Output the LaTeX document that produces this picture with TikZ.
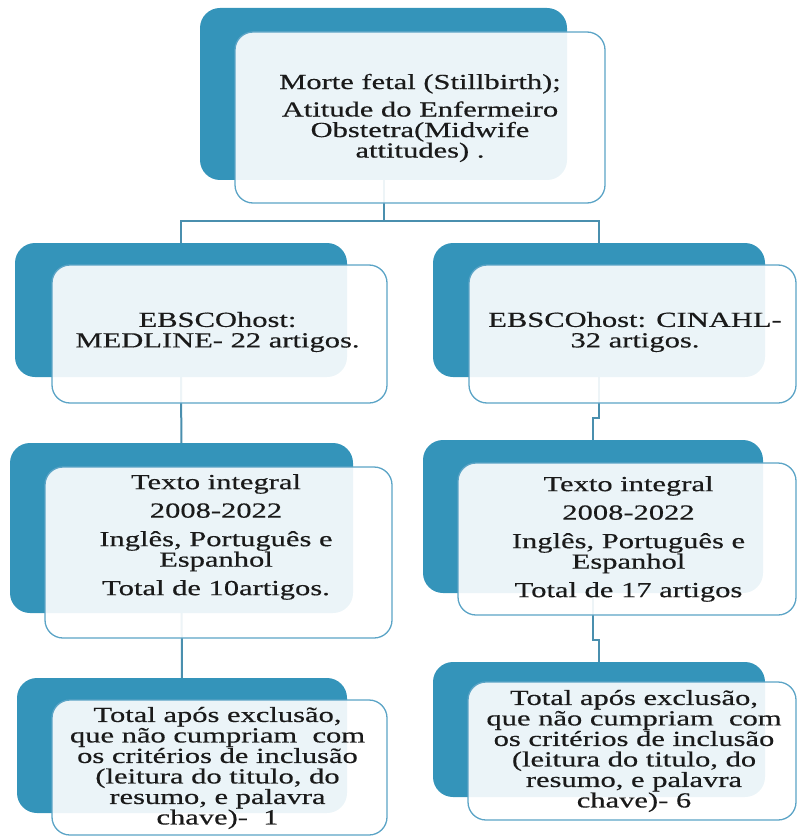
\documentclass[tikz,border=0pt]{standalone}
\usepackage{fontspec}
\setmainfont{Liberation Serif}[FakeStretch=1.42,FakeBold=0.5]
\definecolor{accent}{HTML}{3494BA}
\definecolor{borderc}{HTML}{5BA4C6}
\definecolor{connc}{HTML}{4A8FAE}
\definecolor{textc}{HTML}{1A1A1A}
\pgfdeclarelayer{bg}
\pgfsetlayers{bg,main}
\tikzset{
  darkbox/.style={fill=accent, draw=none, rounded corners=20pt, inner sep=0pt},
  lightbox/.style={draw=borderc, line width=1.3pt, fill=white, fill opacity=0.9, rounded corners=18pt, inner sep=0pt},
  txt/.style={align=center, font=\fontsize{21.5}{20.5}\selectfont, text=textc, inner sep=0pt},
  conn/.style={draw=connc, line width=2pt}
}
\begin{document}
\begin{tikzpicture}[x=1pt,y=-1pt]
\useasboundingbox (0,0) rectangle (797,837);
% dark boxes
\node[darkbox, minimum width=367pt, minimum height=172pt] (td) at (383.5,94) {};
\node[darkbox, minimum width=332pt, minimum height=134pt] (l2d) at (181,310) {};
\node[darkbox, minimum width=332pt, minimum height=134pt] (r2d) at (599,310) {};
\node[darkbox, minimum width=343pt, minimum height=170pt] (l3d) at (181.5,528) {};
\node[darkbox, minimum width=340pt, minimum height=153pt] (r3d) at (593,516.5) {};
\node[darkbox, minimum width=330pt, minimum height=135pt] (l4d) at (182,745.5) {};
\node[darkbox, minimum width=332pt, minimum height=135pt] (r4d) at (599,729.5) {};
% light boxes
\node[lightbox, minimum width=370pt, minimum height=171pt] (tl) at (420,117.5) {};
\node[lightbox, minimum width=335pt, minimum height=138pt] (l2l) at (219.5,334) {};
\node[lightbox, minimum width=327pt, minimum height=138pt] (r2l) at (632.5,334) {};
\node[lightbox, minimum width=347pt, minimum height=171pt] (l3l) at (218.5,552.5) {};
\node[lightbox, minimum width=338pt, minimum height=152pt] (r3l) at (627,539) {};
\node[lightbox, minimum width=335pt, minimum height=135pt] (l4l) at (219.5,767.5) {};
\node[lightbox, minimum width=328pt, minimum height=138pt] (r4l) at (632,751) {};
% texts
\node[txt] (tt) at (420,118) {Morte fetal (Stillbirth);\\[7pt] Atitude do Enfermeiro\\ Obstetra(Midwife\\ attitudes) .};
\node[txt] (l2t) at (217.5,332) {EBSCOhost:\\ MEDLINE- 22 artigos.};
\node[txt] (r2t) at (635,332) {EBSCOhost: CINAHL-\\ 32 artigos.};
\node[txt] (l3t) at (216,537) {Texto integral\\[8pt] 2008-2022\\[8pt] Inglês, Português e\\ Espanhol\\[8pt] Total de 10artigos.};
\node[txt] (r3t) at (628.5,539) {Texto integral\\[8pt] 2008-2022\\[8pt] Inglês, Português e\\ Espanhol\\[8pt] Total de 17 artigos};
\node[txt] (l4t) at (217.5,768) {Total após exclusão,\\ que não cumpriam\ \ com\\ os critérios de inclusão\\ (leitura do titulo, do\\ resumo, e palavra\\ chave)-\ \ 1};
\node[txt] (r4t) at (634,751) {Total após exclusão,\\ que não cumpriam\ \ com\\ os critérios de inclusão\\ (leitura do titulo, do\\ resumo, e palavra\\ chave)- 6};
% connectors
\coordinate (hub) at (383.5,221);
\coordinate (stepA) at (596,418);
\coordinate (stepB) at (596,640);
\begin{pgfonlayer}{bg}
\draw[conn] (td.center) -- (hub);
\draw[conn] (l2d.center) |- (hub);
\draw[conn] (r2d.center) |- (hub);
\draw[conn] (l2d.center) -- (l3d.center);
\draw[conn] (l3d.center) -- (l4d.center);
\draw[conn] (r2d.center) |- (stepA) -| (r3d.center);
\draw[conn] (r3d.center) |- (stepB) -| (r4d.center);
\end{pgfonlayer}
\end{tikzpicture}
\end{document}
